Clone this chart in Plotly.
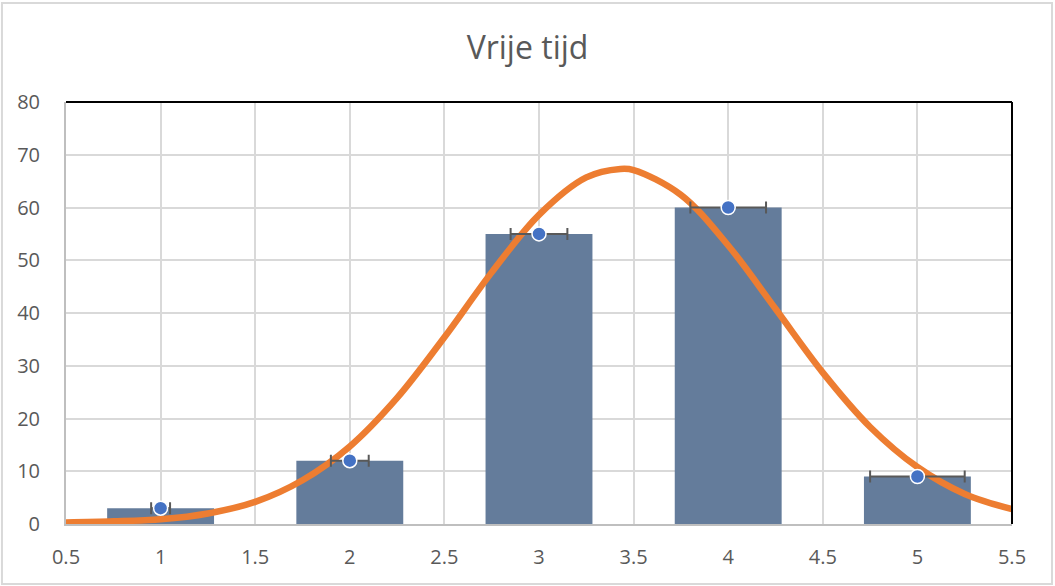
import plotly.graph_objects as go

categories = [1, 2, 3, 4, 5]
values = [3, 12, 55, 60, 9]
x_errors = [0.05, 0.1, 0.15, 0.2, 0.25]

curve_x = [0.5, 0.75, 1.0, 1.25, 1.5, 1.75, 2.0, 2.25, 2.5, 2.75, 3.0, 3.25, 3.43,
           3.5, 3.75, 4.0, 4.25, 4.5, 4.75, 5.0, 5.25, 5.5]
curve_y = [0.3, 0.5, 0.9, 2.0, 4.2, 8.3, 14.7, 23.9, 35.4, 47.7, 58.6, 65.7, 67.3,
           67.1, 62.4, 52.8, 40.8, 28.7, 18.4, 10.8, 5.7, 2.8]

x_ticks = [0.5, 1, 1.5, 2, 2.5, 3, 3.5, 4, 4.5, 5, 5.5]
x_ticktext = ["0.5", "1", "1.5", "2", "2.5", "3", "3.5", "4", "4.5", "5", "5.5"]
y_ticks = [0, 10, 20, 30, 40, 50, 60, 70, 80]

FONT = "Open Sans"
TXT = "#595959"

fig = go.Figure()
fig.add_trace(go.Bar(x=categories, y=values, width=0.565,
                     marker=dict(color="#647C9B", line=dict(width=0)),
                     showlegend=False, hoverinfo="skip"))
fig.add_trace(go.Scatter(x=curve_x, y=curve_y, mode="lines",
                         line=dict(color="#ED7D31", width=6.5, shape="spline", smoothing=1.0),
                         showlegend=False, cliponaxis=True))
fig.add_trace(go.Scatter(x=categories, y=values, mode="markers",
                         marker=dict(color="#4472C4", size=14, line=dict(color="white", width=1.5)),
                         error_x=dict(type="data", array=x_errors, color="#595959",
                                      thickness=2, width=6),
                         showlegend=False, cliponaxis=False))

fig.update_layout(
    width=1055, height=586,
    margin=dict(l=66, r=43, t=102, b=62),
    paper_bgcolor="white", plot_bgcolor="white",
    title=dict(text="Vrije tijd", x=0.5, xanchor="center", y=0.918, yanchor="middle",
               font=dict(family=FONT, size=32, color=TXT)),
    font=dict(family=FONT, color=TXT),
    xaxis=dict(range=[0.5, 5.5], tickvals=x_ticks, ticktext=x_ticktext,
               showgrid=True, gridcolor="#D9D9D9", gridwidth=1.5,
               zeroline=False, showline=True, linecolor="#BFBFBF", linewidth=2,
               ticks="", ticklabelstandoff=14,
               tickfont=dict(family=FONT, size=20, color=TXT)),
    yaxis=dict(range=[0, 80], tickvals=y_ticks,
               showgrid=True, gridcolor="#D9D9D9", gridwidth=1.5,
               zeroline=False, showline=True, linecolor="#BFBFBF", linewidth=2,
               ticks="", ticklabelstandoff=20,
               tickfont=dict(family=FONT, size=20, color=TXT)),
    shapes=[
        dict(type="line", xref="paper", yref="paper", x0=0, x1=1, y0=1, y1=1,
             line=dict(color="black", width=2)),
        dict(type="line", xref="paper", yref="paper", x0=1, x1=1, y0=0, y1=1,
             line=dict(color="black", width=2)),
        dict(type="rect", xref="paper", yref="paper",
             x0=-0.0677, x1=1.0423, y0=-0.1422, y1=1.2346,
             line=dict(color="#D9D9D9", width=2), layer="below"),
    ],
)

fig.write_html("out.html", config={"displayModeBar": False},
               post_script="document.body.style.margin='0';document.body.style.padding='0';")
